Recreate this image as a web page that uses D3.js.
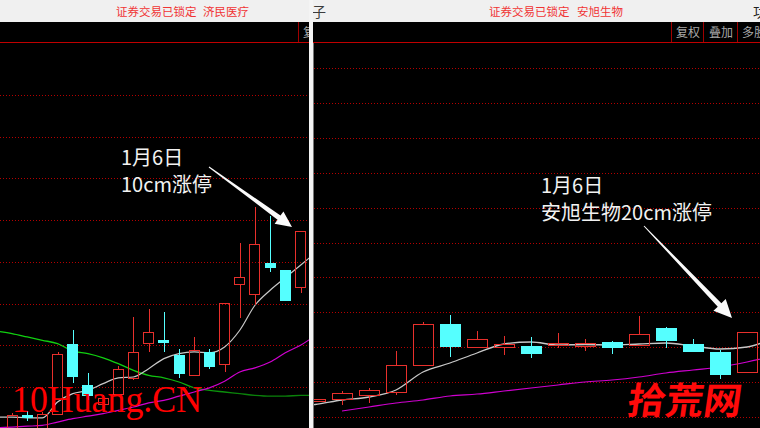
<!DOCTYPE html>
<html><head><meta charset="utf-8">
<script src="https://cdn.jsdelivr.net/npm/d3@7/dist/d3.min.js"></script>
<style>html,body{margin:0;padding:0;background:#000;overflow:hidden}svg{display:block}</style>
</head><body>
<script>
// ---------------- data ----------------
const leftTitle  = ["证券交易已锁定", "济民医疗"];
const rightTitle = ["证券交易已锁定", "安旭生物"];
const leftNote   = ["1月6日", "10cm涨停"];
const rightNote  = ["1月6日", "安旭生物20cm涨停"];
const toolButtons = ["复权", "叠加", "多股"];

// left panel (济民医疗) daily candles
const leftOpen  = [4.95,5.16,4.98,5.18,6.02,5.52,5.30,5.42,5.61,6.03,6.06,5.88,5.64,5.92,5.78,6.73,6.61,6.99,6.90,6.70];
const leftClose = [5.16,5.13,5.18,5.90,5.62,5.39,5.37,5.72,5.92,6.16,6.03,5.66,5.94,5.74,6.51,6.82,7.21,6.93,6.53,7.37];
const leftHigh  = [5.19,5.21,5.20,5.92,6.18,5.67,5.40,5.75,6.34,6.44,6.40,5.96,6.10,5.96,6.51,7.23,7.66,7.55,6.90,7.37];
const leftLow   = [4.89,5.09,4.96,5.16,5.55,5.34,5.27,5.39,5.58,5.92,5.92,5.61,5.63,5.72,5.68,6.33,6.48,6.88,6.53,6.63];
// moving averages, one point before and one after the visible candles
const leftMA5  = [5.14,5.14,5.13,5.13,5.32,5.42,5.46,5.54,5.61,5.62,5.72,5.84,5.90,5.92,5.91,5.98,6.18,6.48,6.66,6.81,6.96,7.11];
const leftMA20 = [5.01,5.02,5.03,5.04,5.08,5.12,5.15,5.18,5.22,5.26,5.31,5.34,5.39,5.44,5.49,5.57,5.68,5.73,5.80,5.91,6.00,6.12];
const leftMA60 = [6.17,6.14,6.10,6.06,6.02,5.93,5.90,5.85,5.78,5.70,5.64,5.61,5.56,5.49,5.46,5.44,5.42,5.40,5.39,5.39,5.40,5.40];
const leftGrid = [5.5,6.0,6.5,7.0,7.5,8.0,8.5,9.0];

// right panel (安旭生物) daily candles
const rightOpen  = [48.58,49.16,50.30,51.16,58.90,70.65,64.06,64.06,64.34,64.63,64.34,65.49,64.63,69.50,64.92,62.62,56.89];
const rightClose = [49.16,50.88,51.74,58.90,70.65,64.06,66.35,64.92,62.05,65.20,65.20,63.77,67.78,65.78,62.62,56.03,68.36];
const rightHigh  = [49.16,51.45,52.31,62.91,71.22,73.23,68.64,67.21,66.92,68.07,66.35,65.78,72.94,69.79,66.35,63.20,68.36];
const rightLow   = [48.58,47.44,48.01,50.30,58.90,61.19,64.06,61.77,60.91,63.77,62.91,62.05,64.63,63.77,62.62,54.89,56.89];
const rightMA5  = [46.87,47.58,48.87,49.73,51.74,56.89,59.47,62.34,64.92,65.49,64.63,64.77,64.63,64.92,65.20,64.34,63.48,64.06,66.64];
const rightMA20 = [null,null,45.72,46.87,48.01,48.87,50.02,50.59,51.45,52.31,53.17,54.03,54.60,55.46,56.61,57.47,58.33,59.76,61.48];
const rightGrid = [44,54,64,74,84,94,104,114,124,134,144];

// ---------------- drawing ----------------
const W = 760, H = 428;
const RED = "#e8302c", CYAN = "#55ffff", GRID = "#b40000";
const CJK = "'Noto Sans CJK SC','Noto Sans',sans-serif";

const svg = d3.select("body").append("svg").attr("width", W).attr("height", H);
svg.append("rect").attr("width", W).attr("height", H).attr("fill", "#000");

const defs = svg.append("defs");
defs.append("clipPath").attr("id", "clipL").append("rect").attr("x", 0).attr("y", 43).attr("width", 309).attr("height", H - 43);
defs.append("clipPath").attr("id", "clipR").append("rect").attr("x", 314).attr("y", 43).attr("width", W - 314).attr("height", H - 43);
defs.append("clipPath").attr("id", "clipHL").append("rect").attr("x", 0).attr("y", 0).attr("width", 309).attr("height", 43);
defs.append("clipPath").attr("id", "clipTop").append("rect").attr("x", 310).attr("y", 0).attr("width", 60).attr("height", 22);
const grad = defs.append("linearGradient").attr("id", "greenGrad").attr("gradientUnits", "userSpaceOnUse")
  .attr("x1", 140).attr("y1", 0).attr("x2", 240).attr("y2", 0);
grad.append("stop").attr("offset", 0).attr("stop-color", "#10d010");
grad.append("stop").attr("offset", 1).attr("stop-color", "#0a820a");

// top title bar
svg.append("rect").attr("x", 0).attr("y", 0).attr("width", W).attr("height", 22).attr("fill", "#f0f0f0");
function title(x0, x1, parts) {
  [x0, x1].forEach((x, i) => svg.append("text").attr("x", x).attr("y", 16).attr("font-family", CJK)
    .attr("font-size", 11.5).attr("fill", "#f03434").text(parts[i]));
}
title(116, 203, leftTitle);
title(489, 577, rightTitle);
svg.append("g").attr("clip-path", "url(#clipTop)").append("text").attr("x", 298).attr("y", 17)
  .attr("font-family", CJK).attr("font-size", 14).attr("fill", "#3c3c3c").text("日子");
svg.append("text").attr("x", 753).attr("y", 17).attr("font-family", CJK).attr("font-size", 14)
  .attr("fill", "#202020").text("功能");

// header rows
function header(x0, x1, seps) {
  svg.append("line").attr("x1", x0).attr("x2", x1).attr("y1", 42.5).attr("y2", 42.5)
    .attr("stroke", "#c00000").attr("stroke-width", 1);
  seps.forEach(s => svg.append("line").attr("x1", s + 0.5).attr("x2", s + 0.5).attr("y1", 22).attr("y2", 42)
    .attr("stroke", "#a00000"));
}
header(0, 309, [298]);
header(313, W, [671, 703, 737]);
svg.append("g").attr("clip-path", "url(#clipHL)").append("text").attr("x", 303).attr("y", 37)
  .attr("font-family", CJK).attr("font-size", 12).attr("fill", "#a8a8a8").text(toolButtons[0]);
[676, 709, 742].forEach((x, i) => svg.append("text").attr("x", x).attr("y", 37)
  .attr("font-family", CJK).attr("font-size", 12).attr("fill", "#a8a8a8").text(toolButtons[i]));

// panel drawing
function panel(opts) {
  const g = svg.append("g").attr("clip-path", opts.clip);
  const y = d3.scaleLinear().domain(opts.yDomain).range(opts.yRange);
  const x = d3.scaleLinear().domain([0, opts.open.length - 1]).range(opts.xRange);
  // grid
  g.selectAll(".grid").data(opts.grid).join("line")
    .attr("x1", opts.gx[0]).attr("x2", opts.gx[1])
    .attr("y1", d => Math.round(y(d)) + 0.5).attr("y2", d => Math.round(y(d)) + 0.5)
    .attr("stroke", GRID).attr("stroke-dasharray", "1,2");
  // moving averages (index offset by -1)
  opts.mas.forEach(m => {
    const line = d3.line().defined(d => d != null).x((d, i) => x(i - 1)).y(d => y(d)).curve(d3.curveMonotoneX);
    g.append("path").attr("d", line(m.data)).attr("fill", "none").attr("stroke", m.color)
      .attr("stroke-width", m.w || 1);
  });
  // candles
  const bw = opts.bw;
  opts.open.forEach((o, i) => {
    const c = opts.close[i], h = opts.high[i], l = opts.low[i];
    const cx = Math.round(x(i)) + 0.5;
    const top = Math.round(y(Math.max(o, c))), bot = Math.round(y(Math.min(o, c)));
    const left = Math.round(x(i) - bw / 2);
    if (c >= o) {
      g.append("line").attr("x1", cx).attr("x2", cx).attr("y1", Math.round(y(h))).attr("y2", top).attr("stroke", RED);
      g.append("line").attr("x1", cx).attr("x2", cx).attr("y1", bot).attr("y2", Math.round(y(l))).attr("stroke", RED);
      g.append("rect").attr("x", left + 0.5).attr("y", top + 0.5).attr("width", bw - 1)
        .attr("height", Math.max(bot - top, 1)).attr("fill", "none").attr("stroke", RED);
    } else {
      g.append("line").attr("x1", cx).attr("x2", cx).attr("y1", Math.round(y(h))).attr("y2", Math.round(y(l))).attr("stroke", CYAN);
      g.append("rect").attr("x", left).attr("y", top).attr("width", bw)
        .attr("height", Math.max(bot - top, 1)).attr("fill", CYAN);
    }
  });
  return { x, y, g };
}

panel({
  clip: "url(#clipL)", yDomain: [5.5, 9.0], yRange: [387, 95], xRange: [12, 300.5], gx: [0, 309],
  grid: leftGrid, open: leftOpen, close: leftClose, high: leftHigh, low: leftLow, bw: 11,
  mas: [{ data: leftMA60, color: "url(#greenGrad)", w: 1.3 }, { data: leftMA20, color: "#d000d0", w: 1.2 },
        { data: leftMA5, color: "#c8c8c8", w: 1.2 }]
});
panel({
  clip: "url(#clipR)", yDomain: [44, 144], yRange: [417, 68], xRange: [315, 747], gx: [314, W],
  grid: rightGrid, open: rightOpen, close: rightClose, high: rightHigh, low: rightLow, bw: 21,
  mas: [{ data: rightMA20, color: "#d000d0", w: 1.2 }, { data: rightMA5, color: "#c8c8c8", w: 1.3 }]
});

// divider between the two screenshots
svg.append("rect").attr("x", 309).attr("y", 0).attr("width", 4).attr("height", H).attr("fill", "#f4f4f4");
svg.append("line").attr("x1", 313.5).attr("x2", 313.5).attr("y1", 43).attr("y2", H).attr("stroke", "#777");

// annotations
function note(x, y0, lines) {
  lines.forEach((t, i) => svg.append("text").attr("x", x).attr("y", y0 + i * 27)
    .attr("font-family", CJK).attr("font-size", 20).attr("fill", "#f2f2f2").text(t));
}
note(121, 165, leftNote);
note(541, 193, rightNote);

function arrow(x1, y1, x2, y2, headLen, headW, w0, w1) {
  const dx = x2 - x1, dy = y2 - y1, len = Math.hypot(dx, dy);
  const ux = dx / len, uy = dy / len, nx = -uy, ny = ux;
  const bx = x2 - ux * headLen, by = y2 - uy * headLen;
  const pts = [
    [x1 + nx * w0 / 2, y1 + ny * w0 / 2], [bx + nx * w1 / 2, by + ny * w1 / 2], [bx + nx * headW / 2, by + ny * headW / 2],
    [x2, y2], [bx - nx * headW / 2, by - ny * headW / 2], [bx - nx * w1 / 2, by - ny * w1 / 2], [x1 - nx * w0 / 2, y1 - ny * w0 / 2]
  ];
  svg.append("path").attr("d", d3.line()(pts) + "Z").attr("fill", "#fafafa");
}
arrow(209, 167, 292, 227, 16, 15, 1, 5);
arrow(644, 226, 732, 318, 18, 17, 1, 5);

// watermarks
svg.append("text").attr("x", 12).attr("y", 412).attr("font-family", "'Liberation Serif','Times New Roman',serif")
  .attr("font-size", 38).attr("textLength", 190).attr("lengthAdjust", "spacingAndGlyphs")
  .attr("fill", "#ff0000").text("10Huang.CN");
svg.append("text").attr("x", 0).attr("y", 0).attr("transform", "translate(626,414) skewX(-8)")
  .attr("font-family", CJK).attr("font-weight", 700).attr("font-size", 37)
  .attr("textLength", 114).attr("lengthAdjust", "spacingAndGlyphs")
  .attr("fill", "#ff0a0a").text("拾荒网");
</script>
</body></html>
